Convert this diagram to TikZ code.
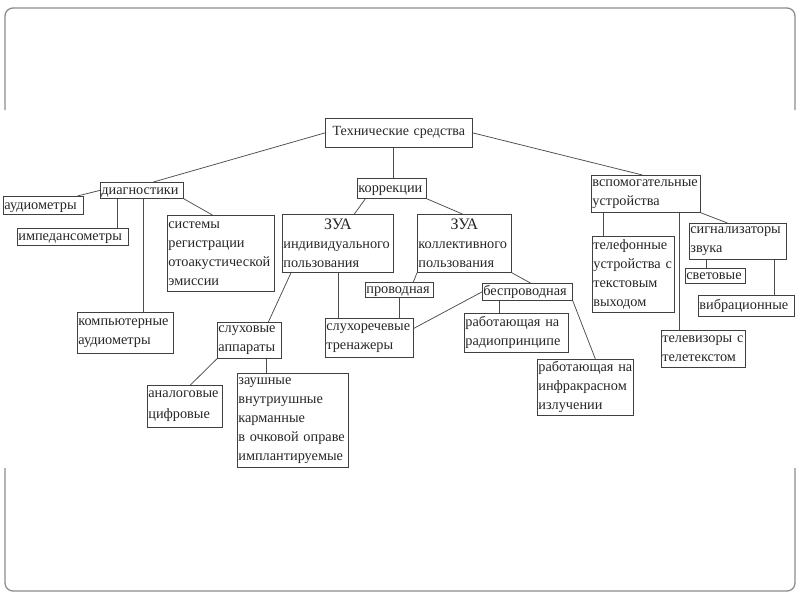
\documentclass[tikz,border=0pt]{standalone}
\usepackage{fontspec}
\setmainfont{Liberation Serif}
\begin{document}
\begin{tikzpicture}[x=1pt,y=-1pt,
  box/.style={draw=black!75, line width=0.75pt, rectangle, anchor=north west, inner sep=1pt, align=left, font=\fontsize{14.3}{19}\selectfont, text=black!85},
  one/.style={text height=10pt, text depth=2.5pt},
  link/.style={draw=black!70, line width=0.75pt},
  frame/.style={draw=black!45, line width=1.3pt, rounded corners=8pt}]
\useasboundingbox (0,0) rectangle (800,600);
\draw[frame] (5,110) -- (5,8) -- (795,8) -- (795,110);
\draw[frame] (5,468) -- (5,591) -- (795,591) -- (795,468);
\node[box, text width=145pt, minimum height=29pt, align=center, font=\fontsize{14}{19}\selectfont] (tech) at (325,118) {Технические средства};
\node[box, one, text width=81pt, minimum height=16pt] (diag) at (100,182) {диагностики};
\node[box, one, text width=78pt, minimum height=18pt] (aud) at (3,196) {аудиометры};
\node[box, one, text width=109pt, minimum height=17pt] (imp) at (17,228) {импедансометры};
\node[box, text width=105pt, minimum height=76pt] (sys) at (167,215) {системы\\регистрации\\отоакустической\\эмиссии};
\node[box, text width=94pt, minimum height=41pt] (comp) at (77,312) {компьютерные\\аудиометры};
\node[box, one, text width=67pt, minimum height=20pt] (korr) at (357,178) {коррекции};
\node[box, text width=109pt, minimum height=58pt] (zuai) at (282,214) {\makebox[\linewidth]{\fontsize{16}{19}\selectfont ЗУА}\\индивидуального\\пользования};
\node[box, text width=92pt, minimum height=58pt] (zuak) at (417,214) {\makebox[\linewidth]{\fontsize{16}{19}\selectfont ЗУА}\\коллективного\\пользования};
\node[box, one, text width=66pt, minimum height=15pt] (prov) at (365,282) {проводная};
\node[box, one, text width=88pt, minimum height=17pt] (besp) at (482,283) {беспроводная};
\node[box, text width=86pt, minimum height=39pt] (sluh) at (325,318) {слухоречевые\\тренажеры};
\node[box, text width=102pt, minimum height=39pt] (radio) at (464,313) {работающая на\\радиопринципе};
\node[box, text width=94pt, minimum height=56pt] (infra) at (537,359) {работающая на\\инфракрасном\\излучении};
\node[box, text width=62pt, minimum height=36pt] (app) at (217,322) {слуховые\\аппараты};
\node[box, text width=73pt, minimum height=42pt, font=\fontsize{14.3}{21}\selectfont] (anal) at (147,385) {аналоговые\\цифровые};
\node[box, text width=109pt, minimum height=94pt] (zaush) at (237,373) {заушные\\внутриушные\\карманные\\в очковой оправе\\имплантируемые};
\node[box, text width=107pt, minimum height=37pt] (vsp) at (591,175) {вспомогательные\\устройства};
\node[box, text width=80pt, minimum height=76pt] (tel) at (592,236) {телефонные\\устройства с\\текстовым\\выходом};
\node[box, text width=95pt, minimum height=36pt] (sign) at (689,223) {сигнализаторы\\звука};
\node[box, one, text width=58pt, minimum height=15pt] (svet) at (685,268) {световые};
\node[box, one, text width=94pt, minimum height=21pt] (vibr) at (698,295) {вибрационные};
\node[box, text width=82pt, minimum height=37pt] (tv) at (661,330) {телевизоры с\\телетекстом};
\draw[link] (tech.west) -- ([xshift=11.5pt]diag.north);
\draw[link] (tech.east) -- ([xshift=-3.5pt]vsp.north);
\draw[link] ([xshift=-5.5pt]tech.south) -- ([xshift=1.5pt]korr.north);
\draw[link] (diag.west) -- ([xshift=34pt]aud.north);
\draw[link] ([xshift=-24.5pt]diag.south) -- ([xshift=44.5pt]imp.north);
\draw[link] ([xshift=1.5pt]diag.south) -- ([xshift=18pt]comp.north);
\draw[link] (diag.south east) -- ([xshift=-8.5pt]sys.north);
\draw[link] ([xshift=-26.5pt]korr.south) -- ([xshift=16.5pt]zuai.north);
\draw[link] (korr.south east) -- ([xshift=-2pt]zuak.north);
\draw[link] ([xshift=9pt]zuai.south west) -- ([xshift=19pt]app.north);
\draw[link] ([xshift=0.5pt]zuai.south) -- ([xshift=-31pt]sluh.north);
\draw[link] (zuak.south west) -- ([xshift=14pt]prov.north);
\draw[link] (zuak.south east) -- ([xshift=3pt]besp.north);
\draw[link] (prov.south) -- ([xshift=30pt]sluh.north);
\draw[link] (besp.west) -- ([yshift=9.5pt]sluh.east);
\draw[link] ([xshift=-28pt]besp.south) -- ([xshift=-17pt]radio.north);
\draw[link] (besp.south east) -- ([xshift=10pt]infra.north);
\draw[link] (app.south west) -- ([xshift=5.5pt]anal.north);
\draw[link] ([xshift=17pt]app.south) -- ([xshift=-26.5pt]zaush.north);
\draw[link] ([xshift=-42.5pt]vsp.south) -- ([xshift=-30pt]tel.north);
\draw[link] ([xshift=33.5pt]vsp.south) -- ([xshift=-24pt]tv.north);
\draw[link] (vsp.south east) -- ([xshift=-10.5pt]sign.north);
\draw[link] ([xshift=-31.5pt]sign.south) -- ([xshift=-9pt]svet.north);
\draw[link] ([xshift=36.5pt]sign.south) -- ([xshift=28pt]vibr.north);
\end{tikzpicture}
\end{document}
